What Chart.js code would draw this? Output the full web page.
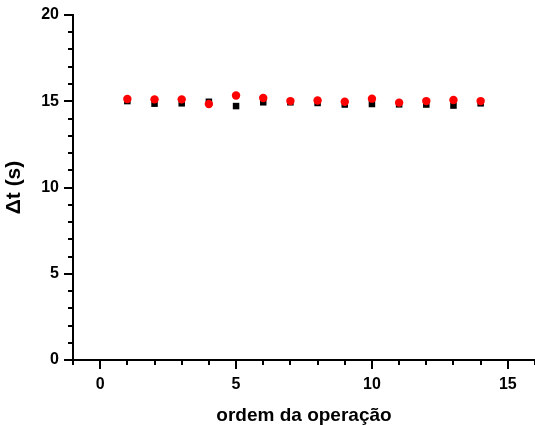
<!DOCTYPE html>
<html>
<head>
<meta charset="utf-8">
<script src="https://cdn.jsdelivr.net/npm/chart.js@4/dist/chart.umd.min.js"></script>
<style>
  html, body { margin: 0; padding: 0; background: #fff; }
  #wrap { width: 535px; height: 425px; }
</style>
</head>
<body>
<div id="wrap"><canvas id="grafico"></canvas></div>
<script>
// ordem da operação
var ordem = [1, 2, 3, 4, 5, 6, 7, 8, 9, 10, 11, 12, 13, 14];
// serie preta (quadrados)
var serieA = [15.01, 14.86, 14.88, 14.97, 14.72, 14.94, 14.94, 14.90, 14.81, 14.84, 14.82, 14.81, 14.75, 14.88];
// serie vermelha (circulos)
var serieB = [15.13, 15.11, 15.11, 14.84, 15.33, 15.19, 15.01, 15.04, 14.97, 15.15, 14.92, 15.01, 15.07, 15.01];

var xTicks = [0, 5, 10, 15];
var yTicks = [0, 5, 10, 15, 20];

function pontos(ys) {
    return ordem.map(function (x, i) { return { x: x, y: ys[i] }; });
}

// desenha os tracinhos (maiores a cada 5) para fora dos eixos
var tracos = {
    id: "tracos",
    afterDraw: function (chart) {
        var ctx = chart.ctx;
        var xs = chart.scales.x, ys = chart.scales.y;
        ctx.save();
        ctx.strokeStyle = "#000";
        ctx.lineWidth = 2;
        xs.ticks.forEach(function (t) {
            var px = Math.round(xs.getPixelForValue(t.value));
            var len = (t.value % 5 === 0) ? 9 : 5;
            ctx.beginPath();
            ctx.moveTo(px, xs.top);
            ctx.lineTo(px, xs.top + len);
            ctx.stroke();
        });
        ys.ticks.forEach(function (t) {
            var py = Math.round(ys.getPixelForValue(t.value));
            var len = (t.value % 5 === 0) ? 9 : 5;
            ctx.beginPath();
            ctx.moveTo(ys.right, py);
            ctx.lineTo(ys.right - len, py);
            ctx.stroke();
        });
        ctx.restore();
    }
};

var familia = "'Liberation Sans', Arial, sans-serif";
var fonte = { family: familia, weight: "bold", size: 16 };

new Chart(document.getElementById("grafico"), {
    type: "scatter",
    data: {
        datasets: [
            {
                label: "B",
                data: pontos(serieB),
                pointStyle: "circle",
                pointRadius: 4.2,
                backgroundColor: "#ff0000",
                borderColor: "#ff0000",
                borderWidth: 0
            },
            {
                label: "A",
                data: pontos(serieA),
                pointStyle: "rect",
                pointRadius: 4.6,
                backgroundColor: "#000",
                borderColor: "#000",
                borderWidth: 0
            }
        ]
    },
    options: {
        responsive: true,
        maintainAspectRatio: false,
        animation: false,
        layout: { autoPadding: false, padding: { top: 15, right: 0, left: 0, bottom: 0 } },
        plugins: { legend: { display: false }, tooltip: { enabled: false } },
        scales: {
            x: {
                type: "linear",
                min: -1,
                max: 16,
                afterFit: function (s) {
                    s.height = 65;
                    s.paddingLeft = 0; s.paddingRight = 0;
                    s.paddingTop = 0; s.paddingBottom = 0;
                },
                grid: { drawOnChartArea: false, drawTicks: false },
                border: { display: true, color: "#000", width: 2 },
                ticks: {
                    stepSize: 1,
                    color: "#000",
                    font: fonte,
                    padding: 15,
                    maxRotation: 0,
                    autoSkip: false,
                    callback: function (v) { return xTicks.indexOf(v) >= 0 ? v : ""; }
                },
                title: {
                    display: true,
                    text: "ordem da operação",
                    color: "#000",
                    font: { family: familia, weight: "bold", size: 19 },
                    padding: { top: 12, bottom: -2 }
                }
            },
            y: {
                min: 0,
                max: 20,
                afterFit: function (s) {
                    s.width = 73;
                    s.paddingLeft = 0; s.paddingRight = 0;
                    s.paddingTop = 0; s.paddingBottom = 0;
                },
                grid: { drawOnChartArea: false, drawTicks: false },
                border: { display: true, color: "#000", width: 2 },
                ticks: {
                    stepSize: 1,
                    color: "#000",
                    font: fonte,
                    padding: 14,
                    autoSkip: false,
                    callback: function (v) { return yTicks.indexOf(v) >= 0 ? v : ""; }
                },
                title: {
                    display: true,
                    text: "Δt (s)",
                    color: "#000",
                    font: { family: familia, weight: "bold", size: 21 },
                    padding: { top: 2, bottom: 2 }
                }
            }
        }
    },
    plugins: [tracos]
});
</script>
</body>
</html>
